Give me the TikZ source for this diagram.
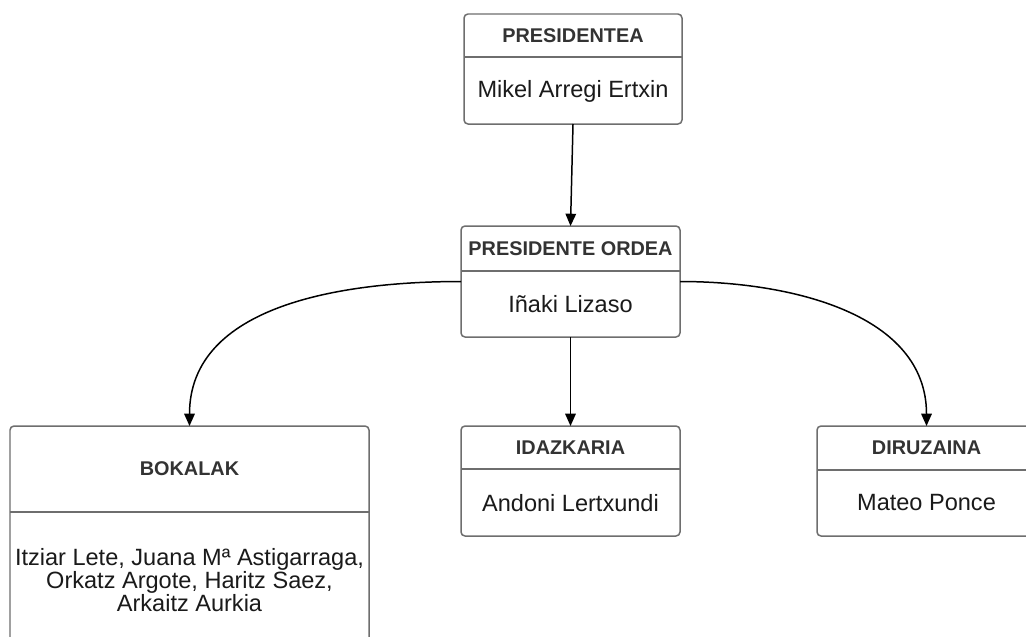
\documentclass[tikz,border=0pt]{standalone}
\usepackage{fontspec}
\setmainfont{Liberation Sans}
\usetikzlibrary{arrows.meta}

\newlength\pxu
\setlength\pxu{0.02cm}

\definecolor{boxgray}{HTML}{6E6E6E}
\definecolor{titlegray}{HTML}{333333}
\definecolor{namegray}{HTML}{1A1A1A}

\tikzset{
    box/.style={draw=boxgray, line width=0.85pt, rounded corners=2.3pt,
        inner sep=0pt, outer sep=0pt, fill=white},
    divider/.style={draw=boxgray, line width=0.8pt},
    boxtitle/.style={font=\fontsize{11.3}{13}\selectfont\bfseries, text=titlegray, inner sep=0pt},
    boxname/.style={font=\fontsize{13.4}{13}\selectfont, text=namegray, inner sep=0pt, align=center},
    conn/.style={draw=black, line width=0.85pt, -{Triangle[length=7pt,width=6pt]}}
}

\begin{document}
\begin{tikzpicture}[x=0.02cm, y=-0.02cm]
        % Page size
        \clip (0,0) rectangle (1026,636);
        \fill[white] (0,0) rectangle (1026,636);

        % Presidentea
        \node[box, minimum width=218\pxu, minimum height=110\pxu] (pres) at (573,69) {};
        \draw[divider] (pres.west |- 0,57) -- (pres.east |- 0,57);
        \node[boxtitle] (pres-title) at (573,35.5) {PRESIDENTEA};
        \node[boxname] (pres-name) at (573,91) {Mikel Arregi Ertxin};

        % Presidente ordea
        \node[box, minimum width=219\pxu, minimum height=111\pxu] (ordea) at (570.5,281.5) {};
        \draw[divider] (ordea.west |- 0,271) -- (ordea.east |- 0,271);
        \node[boxtitle] (ordea-title) at (570.5,249) {PRESIDENTE ORDEA};
        \node[boxname] (ordea-name) at (570.5,304) {Iñaki Lizaso};

            % Bokalak
            \node[box, minimum width=359\pxu, minimum height=222\pxu] (bokalak) at (189.5,537) {};
            \draw[divider] (bokalak.west |- 0,512) -- (bokalak.east |- 0,512);
            \node[boxtitle] (bokalak-title) at (189.5,469) {BOKALAK};
            \node[boxname] (bokalak-name) at (189.5,580) {Itziar Lete, Juana Mª Astigarraga,\\
                Orkatz Argote, Haritz Saez,\\ Arkaitz Aurkia};

            % Idazkaria
            \node[box, minimum width=219\pxu, minimum height=110\pxu] (idaz) at (570.5,481) {};
            \draw[divider] (idaz.west |- 0,469) -- (idaz.east |- 0,469);
            \node[boxtitle] (idaz-title) at (570.5,447.5) {IDAZKARIA};
            \node[boxname] (idaz-name) at (570.5,503) {Andoni Lertxundi};

            % Diruzaina
            \node[box, minimum width=219\pxu, minimum height=110\pxu] (diru) at (926.5,481) {};
            \draw[divider] (diru.west |- 0,470) -- (diru.east |- 0,470);
            \node[boxtitle] (diru-title) at (926.5,448) {DIRUZAINA};
            \node[boxname] (diru-name) at (926.5,503) {Mateo Ponce};

        % Connectors
        \draw[conn] (pres.south) -- (ordea.north);
        \draw[conn] (ordea.west) to[out=180, in=90] (bokalak.north);
        \draw[conn] (ordea.south) -- (idaz.north);
        \draw[conn] (ordea.east) to[out=0, in=90] (diru.north);

    \end{tikzpicture}
\end{document}
